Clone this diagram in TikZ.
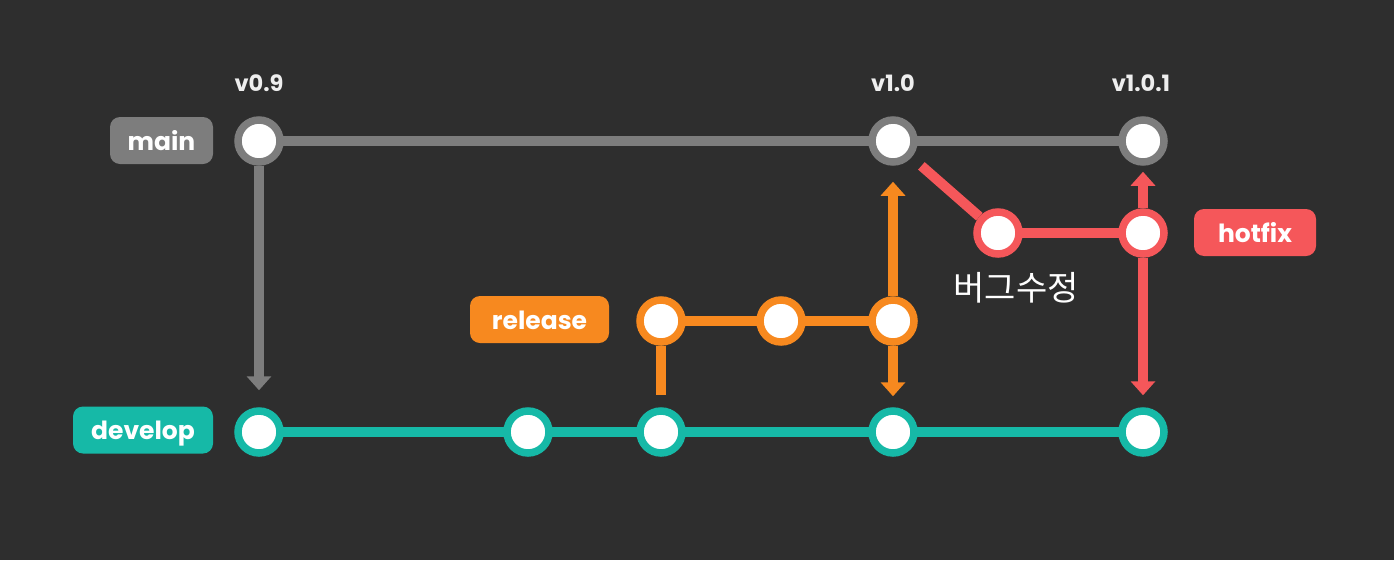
\documentclass[tikz,border=0pt]{standalone}
\usepackage{fontspec}
\setmainfont{Poppins}
\newfontfamily\krfont{Noto Sans CJK KR}
\usetikzlibrary{arrows.meta}
\pgfdeclarelayer{bg}
\pgfdeclarelayer{lines}
\pgfsetlayers{bg,lines,main}
\definecolor{bgcol}{HTML}{2E2E2E}
\definecolor{cgray}{HTML}{7D7D7D}
\definecolor{cteal}{HTML}{16B9A7}
\definecolor{corange}{HTML}{F7891F}
\definecolor{cred}{HTML}{F5575A}
\definecolor{ctext}{HTML}{EEEEEE}
\begin{document}
\begin{tikzpicture}[x=1pt,y=-1pt,
  commit/.style={circle, draw=#1, fill=white, line width=7.5pt, minimum size=42pt, inner sep=0pt},
  branchlabel/.style={fill=#1, rounded corners=10pt, text=white, minimum height=47pt, inner xsep=0pt,
    font=\fontsize{25}{30}\selectfont\bfseries, text height=19pt, text depth=0pt},
  version/.style={text=ctext, font=\fontsize{22.5}{27}\selectfont\bfseries, anchor=base},
  link/.style={draw=#1, line width=10pt},
  tip/.style={-{Triangle[width=24pt,length=14pt]}}
]
\begin{pgfonlayer}{bg}
\fill[bgcol] (0,0) rectangle (1394,560);
\end{pgfonlayer}
\useasboundingbox (0,0) rectangle (1394,560);

% commits
\node[commit=cgray] (m1) at (259,141) {};
\node[commit=cgray] (m2) at (893,141) {};
\node[commit=cgray] (m3) at (1143,141) {};
\node[commit=cteal] (d1) at (259,432) {};
\node[commit=cteal] (d2) at (528,432) {};
\node[commit=cteal] (d3) at (661,432) {};
\node[commit=cteal] (d4) at (893,432) {};
\node[commit=cteal] (d5) at (1143,432) {};
\node[commit=corange] (r1) at (661,321) {};
\node[commit=corange] (r2) at (781,321) {};
\node[commit=corange] (r3) at (893,321) {};
\node[commit=cred] (h1) at (998,233) {};
\node[commit=cred] (h2) at (1143,233) {};

% labels
\node[branchlabel=cgray, minimum width=103pt] (lmain) at (161.5,140.5) {main};
\node[branchlabel=cteal, minimum width=140pt] (ldev) at (143,430) {develop};
\node[branchlabel=corange, minimum width=139pt] (lrel) at (539.5,319.5) {release};
\node[branchlabel=cred, minimum width=122pt] (lhot) at (1255,232.5) {hotfix};

\node[version] (v09) at (259,91) {v0.9};
\node[version] (v10) at (893,91) {v1.0};
\node[version] (v101) at (1141,91) {v1.0.1};

\node[text=white, font=\krfont\fontsize{34}{40}\selectfont] (fix) at (1016,288) {버그수정};

\begin{pgfonlayer}{lines}
\draw[link=cgray] (m1.center) -- (m3.center);
\draw[link=cteal] (d1.center) -- (d5.center);
\draw[link=corange] (r1.center) -- (r3.center);
\draw[link=cred] (h1.center) -- (h2.center);
\draw[link=cgray, tip, shorten >=17pt] (m1) -- (d1);
\draw[link=corange, shorten >=12pt] (r1) -- (d3);
\draw[link=corange, tip, shorten >=16pt] (r3) -- (m2);
\draw[link=corange, tip, shorten >=11pt] (r3) -- (d4);
\draw[link=cred, shorten <=13pt] (m2) -- (h1);
\draw[link=cred, tip, shorten >=6pt] (h2) -- (m3);
\draw[link=cred, tip, shorten >=12pt] (h2) -- (d5);
\end{pgfonlayer}
\end{tikzpicture}
\end{document}
